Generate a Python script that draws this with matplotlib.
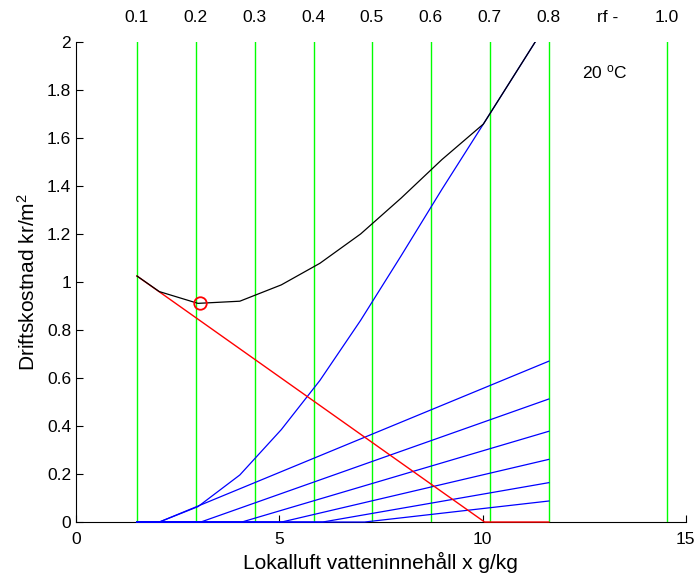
import matplotlib
matplotlib.use("Agg")
import matplotlib.pyplot as plt

plt.rcParams['font.family'] = ['Liberation Sans', 'DejaVu Sans']
plt.rcParams['mathtext.fontset'] = 'custom'
plt.rcParams['mathtext.rm'] = 'Liberation Sans'
plt.rcParams['mathtext.it'] = 'Liberation Sans'

# relative humidity lines (x in g/kg at 20 C)
rf_x = [1.50, 2.95, 4.40, 5.85, 7.28, 8.73, 10.18, 11.63, 14.53]
rf_top_x = [1.50, 2.95, 4.40, 5.85, 7.28, 8.73, 10.18, 11.63, 13.08, 14.53]
rf_top_labels = ['0.1', '0.2', '0.3', '0.4', '0.5', '0.6', '0.7', '0.8', 'rf -', '1.0']

# cost curves
x_pts = [1.5, 2.05, 3.0, 4.03, 5.05, 6.0, 7.0, 8.0, 9.0, 10.02, 11.63]
blue_main = [0, 0, 0.064, 0.196, 0.385, 0.59, 0.84, 1.11, 1.386, 1.658, 2.09]
black_total = [1.025, 0.96, 0.911, 0.92, 0.988, 1.078, 1.20, 1.35, 1.51, 1.658, 2.09]

red_x = [1.5, 10.05, 11.63]
red_y = [1.025, 0, 0]

# fan of blue lines: start x on the zero line and end value at rf 0.8
fan_start = [2.05, 3.07, 4.08, 5.06, 6.07, 7.1]
fan_end = [0.670, 0.5125, 0.378, 0.261, 0.164, 0.0875]

opt_x, opt_y = 3.05, 0.912

fig = plt.figure(figsize=(6.97, 5.83), dpi=100)
ax = fig.add_axes([0.109, 0.1046, 0.875, 0.8234])

for xv in rf_x:
    ax.plot([xv, xv], [0, 2], color='#00ff00', lw=1.0, zorder=3)

for xs, ye in zip(fan_start, fan_end):
    ax.plot([1.5, xs, 11.63], [0, 0, ye], color='b', lw=0.9, zorder=3, clip_on=False)

ax.plot(x_pts, blue_main, color='b', lw=0.9, zorder=3)
ax.plot(red_x, red_y, color='r', lw=1.0, zorder=3, clip_on=False)
ax.plot(x_pts, black_total, color='k', lw=0.9, zorder=3)
ax.plot(opt_x, opt_y, 'o', mfc='none', mec='r', ms=9, mew=1.3, zorder=4)

for xv, lab in zip(rf_top_x, rf_top_labels):
    ax.text(xv, 2.1, lab, ha='center', va='center', fontsize=12.5, clip_on=False)

ax.text(12.45, 1.875, r'20 $^{\mathrm{o}}$C', fontsize=12.5, va='center')

ax.set_xlim(0, 15)
ax.set_ylim(0, 2)
ax.set_xticks([0, 5, 10, 15])
ax.set_yticks([0, 0.2, 0.4, 0.6, 0.8, 1, 1.2, 1.4, 1.6, 1.8, 2])
ax.set_yticklabels(['0', '0.2', '0.4', '0.6', '0.8', '1', '1.2', '1.4', '1.6', '1.8', '2'])
ax.tick_params(direction='in', length=5, labelsize=12.5, width=0.8)
ax.tick_params(axis='x', pad=7)
ax.spines['top'].set_visible(False)
ax.spines['right'].set_visible(False)
ax.set_xlabel('Lokalluft vatteninnehåll x g/kg', fontsize=15, labelpad=4)
ax.set_ylabel('Driftskostnad kr/m$^2$', fontsize=15, labelpad=6)

fig.savefig('out.png', dpi=100)
